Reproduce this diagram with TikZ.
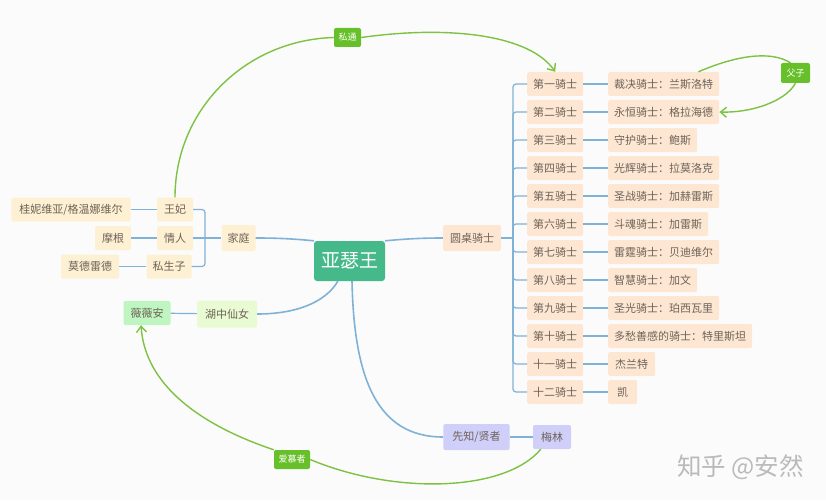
\documentclass[tikz,border=0pt]{standalone}
\usepackage{fontspec}
\setmainfont{Noto Sans CJK SC}
\usepackage{xcolor}
\usetikzlibrary{positioning, arrows.meta}
\definecolor{bgcol}{HTML}{FBFBFB}
\definecolor{txtcol}{HTML}{6E6258}
\definecolor{linecol}{HTML}{7FB2D6}
\definecolor{linkcol}{HTML}{7DC242}
\definecolor{tagcol}{HTML}{67C02A}
\definecolor{rootcol}{HTML}{46B98A}
\definecolor{peach}{HTML}{FDE7D3}
\definecolor{sand}{HTML}{FDF0D3}
\definecolor{lime}{HTML}{E8FBD3}
\definecolor{mint}{HTML}{BFF5C0}
\definecolor{lilac}{HTML}{CFCFFA}
\tikzset{
  box/.style={rounded corners=2pt, inner xsep=6pt, inner ysep=0pt, minimum height=24pt, text=txtcol, font=\fontsize{11}{13}\selectfont},
  knight/.style={box, fill=peach},
  family/.style={box, fill=sand},
  tag/.style={rounded corners=2pt, fill=tagcol, text=white, inner xsep=4.5pt, inner ysep=0pt, minimum height=19pt, font=\fontsize{9}{11}\selectfont},
  branch/.style={draw=linecol, line width=1.2pt, rounded corners=3pt},
  rootline/.style={draw=linecol, line width=1.6pt},
  rel/.style={draw=linkcol, line width=1.4pt},
  tip/.style={-{Straight Barb[length=6pt, width=10pt]}},
}
\begin{document}
\begin{tikzpicture}[x=1pt, y=-1pt]
\fill [bgcol] (0, 0) rectangle (826, 500);
\useasboundingbox (0, 0) rectangle (826, 500);
\node [rounded corners=3pt, fill=rootcol, text=white, minimum width=71pt, minimum height=40pt, inner sep=0pt, font=\fontsize{19}{22}\selectfont] (root) at (349.5, 261) {亚瑟王};
% family
\node [family, minimum height=26pt] (home) at (238.5, 238) {家庭};
\node [family, minimum width=36pt] (queen) at (175, 209.5) {王妃};
\node [family, minimum width=36pt] (lover) at (175, 238) {情人};
\node [family] (bastard) at (169, 266.5) {私生子};
\node [family, inner xsep=8pt] (guin) at (71, 209.5) {桂妮维亚/格温娜维尔};
\node [family, minimum width=36pt] (morgan) at (113, 238) {摩根};
\node [family, inner xsep=7pt] (mordred) at (90, 266.5) {莫德雷德};
\coordinate (hometrunk) at (205, 238);
\draw [branch] (queen.east) -| (hometrunk);
\draw [branch] (bastard.east) -| (hometrunk);
\draw [branch] (lover.east) -- (home.west);
\draw [branch] (guin) -- (queen);
\draw [branch] (morgan) -- (lover);
\draw [branch] (mordred) -- (bastard);
% lake
\node [box, fill=lime, minimum height=27pt, inner xsep=8pt] (lady) at (227, 314) {湖中仙女};
\node [box, fill=mint, inner xsep=7pt] (vivien) at (147, 313) {薇薇安};
\draw [branch] (vivien) -- (lady);
% merlin
\node [box, fill=lilac, minimum height=26pt, inner xsep=9pt] (sage) at (476.5, 437) {先知/贤者};
\node [box, fill=lilac, minimum width=38pt] (merlin) at (552, 437) {梅林};
\draw [branch] (sage) -- (merlin);
% knights
\node [knight, minimum height=26pt, inner xsep=7pt] (table) at (472, 238) {圆桌骑士};
\coordinate (trunk) at (513, 238);
\draw [branch] (table.east) -- (trunk);
\foreach \rank/\hero/\herow [count=\r] in {第一骑士/裁决骑士：兰斯洛特/0, 第二骑士/永恒骑士：格拉海德/0, 第三骑士/守护骑士：鲍斯/0, 第四骑士/光辉骑士：拉莫洛克/0, 第五骑士/圣战骑士：加赫雷斯/0, 第六骑士/斗魂骑士：加雷斯/0, 第七骑士/雷霆骑士：贝迪维尔/0, 第八骑士/智慧骑士：加文/0, 第九骑士/圣光骑士：珀西瓦里/0, 第十骑士/多愁善感的骑士：特里斯坦/0, 十一骑士/杰兰特/47, 十二骑士/凯/29} {
  \node [knight, anchor=west] (k\r) at (527, 56+28*\r) {\rank};
  \node [knight, anchor=west, minimum width=\herow pt] (h\r) at (608, 56+28*\r) {\hero};
  \draw [branch] (k\r.west) -| (trunk);
  \draw [branch] (k\r) -- (h\r);
}
% root branches
\draw [rootline] (root.north west) .. controls (295, 239) and (280, 238) .. (home.east);
\draw [rootline] (root.north east) .. controls (405, 239) and (420, 238) .. (table.west);
\draw [rootline] (lady.east) .. controls (295, 314) and (325, 303) .. (root.240);
\draw [rootline] ([xshift=2.5pt]root.south) .. controls (354, 375) and (375, 437) .. (sage.west);
% relations
\node [tag] (affair) at (347.5, 37.5) {私通};
\node [tag, minimum height=20pt, minimum width=29pt] (father) at (795.5, 73) {父子};
\node [tag, minimum width=36pt] (admirer) at (292, 459.5) {爱慕者};
\draw [rel] (queen.north) .. controls (175, 110) and (245, 40) .. (affair.west);
\draw [rel, tip] (affair.east) .. controls (450, 25) and (530, 35) .. (k1.north);
\draw [rel] ([xshift=-21pt]h1.north east) .. controls (735, 56) and (770, 50) .. ([xshift=-5pt]father.north);
\draw [rel, tip] (father.south) .. controls (785, 102) and (750, 113) .. (h2.east);
\draw [rel] ([xshift=8pt]merlin.south west) .. controls (505, 492) and (395, 495) .. (admirer.east);
\draw [rel, tip] (admirer.north west) .. controls (200, 425) and (145, 385) .. ([xshift=-6pt]vivien.south);
% watermark
\node [text=black!27, font=\fontsize{24.5}{28}\selectfont, inner sep=0pt] (mark) at (740.5, 467) {知乎 @安然};
\end{tikzpicture}
\end{document}
